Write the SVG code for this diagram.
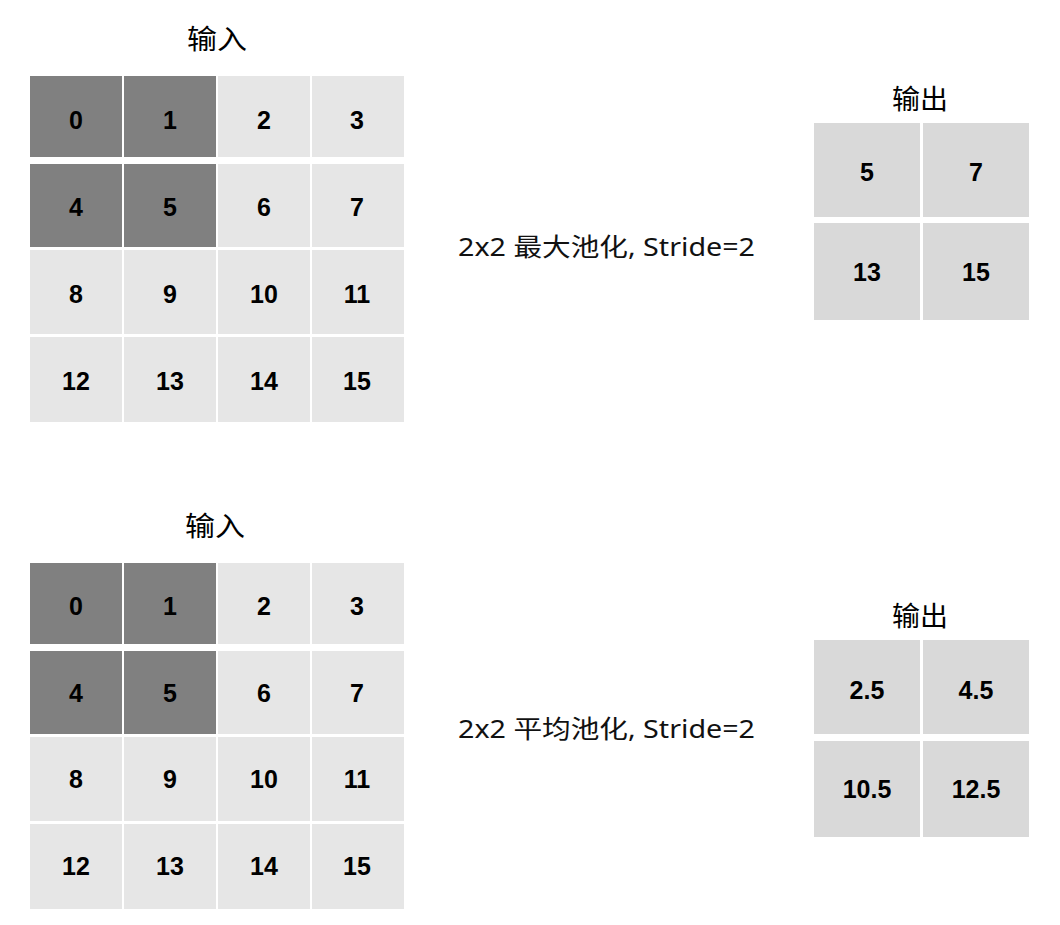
<svg xmlns="http://www.w3.org/2000/svg" width="1060" height="925" viewBox="0 0 1060 925">
<style>
.dark{fill:#808080}
.light{fill:#e6e6e6}
.out{fill:#d9d9d9}
.num{font-family:"Liberation Sans",Arial,sans-serif;font-weight:bold;font-size:25px;fill:#000;text-anchor:middle}
.title{font-family:"Noto Sans CJK SC","Noto Sans",sans-serif;font-size:27px;fill:#000;text-anchor:middle}
.op{font-family:"Noto Sans","Noto Sans CJK SC",sans-serif;font-size:25px;fill:#111}
</style>
<rect width="1060" height="925" fill="#fff"/>
<g id="max-input">
<text class="title" x="217" y="49" textLength="60" lengthAdjust="spacingAndGlyphs">输入</text>
<rect class="dark" x="30" y="76" width="92" height="81"/><rect class="dark" x="124" y="76" width="92" height="81"/><rect class="light" x="218" y="76" width="92" height="81"/><rect class="light" x="312" y="76" width="92" height="81"/>
<rect class="dark" x="30" y="164" width="92" height="83"/><rect class="dark" x="124" y="164" width="92" height="83"/><rect class="light" x="218" y="164" width="92" height="83"/><rect class="light" x="312" y="164" width="92" height="83"/>
<rect class="light" x="30" y="250" width="92" height="84"/><rect class="light" x="124" y="250" width="92" height="84"/><rect class="light" x="218" y="250" width="92" height="84"/><rect class="light" x="312" y="250" width="92" height="84"/>
<rect class="light" x="30" y="337" width="92" height="85"/><rect class="light" x="124" y="337" width="92" height="85"/><rect class="light" x="218" y="337" width="92" height="85"/><rect class="light" x="312" y="337" width="92" height="85"/>
<text class="num" x="76" y="129">0</text><text class="num" x="170" y="129">1</text><text class="num" x="264" y="129">2</text><text class="num" x="357" y="129">3</text>
<text class="num" x="76" y="216">4</text><text class="num" x="170" y="216">5</text><text class="num" x="264" y="216">6</text><text class="num" x="357" y="216">7</text>
<text class="num" x="76" y="303">8</text><text class="num" x="170" y="303">9</text><text class="num" x="264" y="303">10</text><text class="num" x="357" y="303">11</text>
<text class="num" x="76" y="390">12</text><text class="num" x="170" y="390">13</text><text class="num" x="264" y="390">14</text><text class="num" x="357" y="390">15</text>
</g>
<g id="max-op">
<text class="op" x="458" y="256" textLength="297" lengthAdjust="spacingAndGlyphs">2x2 最大池化, Stride=2</text>
</g>
<g id="max-output">
<text class="title" x="920" y="109" textLength="56" lengthAdjust="spacingAndGlyphs">输出</text>
<rect class="out" x="814" y="123" width="106" height="94"/><rect class="out" x="923" y="123" width="106" height="94"/>
<rect class="out" x="814" y="223" width="106" height="97"/><rect class="out" x="923" y="223" width="106" height="97"/>
<text class="num" x="867" y="181">5</text><text class="num" x="976" y="181">7</text>
<text class="num" x="867" y="281">13</text><text class="num" x="976" y="281">15</text>
</g>
<g id="avg-input">
<text class="title" x="215" y="536" textLength="60" lengthAdjust="spacingAndGlyphs">输入</text>
<rect class="dark" x="30" y="563" width="92" height="81"/><rect class="dark" x="124" y="563" width="92" height="81"/><rect class="light" x="218" y="563" width="92" height="81"/><rect class="light" x="312" y="563" width="92" height="81"/>
<rect class="dark" x="30" y="651" width="92" height="83"/><rect class="dark" x="124" y="651" width="92" height="83"/><rect class="light" x="218" y="651" width="92" height="83"/><rect class="light" x="312" y="651" width="92" height="83"/>
<rect class="light" x="30" y="737" width="92" height="84"/><rect class="light" x="124" y="737" width="92" height="84"/><rect class="light" x="218" y="737" width="92" height="84"/><rect class="light" x="312" y="737" width="92" height="84"/>
<rect class="light" x="30" y="824" width="92" height="85"/><rect class="light" x="124" y="824" width="92" height="85"/><rect class="light" x="218" y="824" width="92" height="85"/><rect class="light" x="312" y="824" width="92" height="85"/>
<text class="num" x="76" y="615">0</text><text class="num" x="170" y="615">1</text><text class="num" x="264" y="615">2</text><text class="num" x="357" y="615">3</text>
<text class="num" x="76" y="702">4</text><text class="num" x="170" y="702">5</text><text class="num" x="264" y="702">6</text><text class="num" x="357" y="702">7</text>
<text class="num" x="76" y="788">8</text><text class="num" x="170" y="788">9</text><text class="num" x="264" y="788">10</text><text class="num" x="357" y="788">11</text>
<text class="num" x="76" y="875">12</text><text class="num" x="170" y="875">13</text><text class="num" x="264" y="875">14</text><text class="num" x="357" y="875">15</text>
</g>
<g id="avg-op">
<text class="op" x="458" y="738" textLength="297" lengthAdjust="spacingAndGlyphs">2x2 平均池化, Stride=2</text>
</g>
<g id="avg-output">
<text class="title" x="920" y="626" textLength="56" lengthAdjust="spacingAndGlyphs">输出</text>
<rect class="out" x="814" y="640" width="106" height="94"/><rect class="out" x="923" y="640" width="106" height="94"/>
<rect class="out" x="814" y="741" width="106" height="96"/><rect class="out" x="923" y="741" width="106" height="96"/>
<text class="num" x="867" y="699">2.5</text><text class="num" x="976" y="699">4.5</text>
<text class="num" x="867" y="798">10.5</text><text class="num" x="976" y="798">12.5</text>
</g>
<g id="connectors"/>
</svg>
